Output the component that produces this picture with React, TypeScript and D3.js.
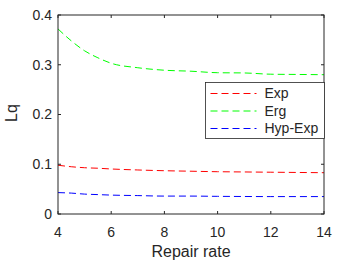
import React, { useEffect, useRef } from 'react';
import * as d3 from 'd3';

const repairRate = [4, 4.5, 5, 5.5, 6, 7, 8, 9, 10, 11, 12, 13, 14];
const expLq = [0.098, 0.095, 0.093, 0.092, 0.0905, 0.0885, 0.087, 0.086, 0.085, 0.0845, 0.084, 0.0835, 0.083];
const ergLq = [0.372, 0.348, 0.328, 0.314, 0.303, 0.294, 0.289, 0.287, 0.284, 0.2835, 0.281, 0.2805, 0.28];
const hypExpLq = [0.043, 0.042, 0.04, 0.039, 0.038, 0.037, 0.036, 0.036, 0.0355, 0.0352, 0.035, 0.035, 0.035];
const seriesNames = ['Exp', 'Erg', 'Hyp-Exp'];
const seriesColors = ['#ff0000', '#00ff00', '#0000ff'];
const xTicks = [4, 6, 8, 10, 12, 14];
const yTicks = [0, 0.1, 0.2, 0.3, 0.4];

export default function App() {
    const svgRef = useRef<SVGSVGElement>(null);

    useEffect(() => {
        if (!svgRef.current) return;
        const width = 345;
        const height = 264;
        const m = { left: 58, right: 21, top: 15, bottom: 50 };
        const font = 'Liberation Sans, Arial, sans-serif';
        const ink = '#262626';

        const svg = d3.select(svgRef.current);
        svg.selectAll('*').remove();
        svg.attr('viewBox', `0 0 ${width} ${height}`);

        const x = d3.scaleLinear().domain([4, 14]).range([m.left, width - m.right]);
        const y = d3.scaleLinear().domain([0, 0.4]).range([height - m.bottom, m.top]);

        const series = [expLq, ergLq, hypExpLq];
        const line = d3.line<number>()
            .x((_, i) => x(repairRate[i]))
            .y(d => y(d))
            .curve(d3.curveMonotoneX);

        series.forEach((vals, k) => {
            svg.append('path')
                .attr('d', line(vals))
                .attr('fill', 'none')
                .attr('stroke', seriesColors[k])
                .attr('stroke-width', 1)
                .attr('stroke-dasharray', '7,4');
        });

        // box
        svg.append('rect')
            .attr('x', x(4)).attr('y', y(0.4))
            .attr('width', x(14) - x(4)).attr('height', y(0) - y(0.4))
            .attr('fill', 'none').attr('stroke', ink).attr('stroke-width', 1);

        const tl = 3;
        xTicks.forEach(t => {
            svg.append('line').attr('x1', x(t)).attr('x2', x(t))
                .attr('y1', y(0)).attr('y2', y(0) - tl).attr('stroke', ink);
            svg.append('line').attr('x1', x(t)).attr('x2', x(t))
                .attr('y1', y(0.4)).attr('y2', y(0.4) + tl).attr('stroke', ink);
            svg.append('text').attr('x', x(t)).attr('y', 237)
                .attr('text-anchor', 'middle').attr('fill', ink)
                .style('font-family', font).style('font-size', '14px')
                .text(t);
        });
        yTicks.forEach(t => {
            svg.append('line').attr('x1', x(4)).attr('x2', x(4) + tl)
                .attr('y1', y(t)).attr('y2', y(t)).attr('stroke', ink);
            svg.append('line').attr('x1', x(14)).attr('x2', x(14) - tl)
                .attr('y1', y(t)).attr('y2', y(t)).attr('stroke', ink);
            svg.append('text').attr('x', 52).attr('y', y(t))
                .attr('dy', '0.35em')
                .attr('text-anchor', 'end').attr('fill', ink)
                .style('font-family', font).style('font-size', '14px')
                .text(t === 0 ? '0' : d3.format('.1f')(t));
        });

        svg.append('text').attr('x', (x(4) + x(14)) / 2).attr('y', 257)
            .attr('text-anchor', 'middle').attr('fill', ink)
            .style('font-family', font).style('font-size', '16px')
            .text('Repair rate');
        svg.append('text')
            .attr('transform', `translate(17, 113) rotate(-90)`)
            .attr('text-anchor', 'middle').attr('fill', ink)
            .style('font-family', font).style('font-size', '16px')
            .text('Lq');

        // legend
        const lg = svg.append('g').attr('transform', 'translate(205.5,82.5)');
        lg.append('rect').attr('width', 119).attr('height', 56)
            .attr('fill', '#ffffff').attr('stroke', ink).attr('stroke-width', 0.8);
        seriesNames.forEach((name, k) => {
            const yy = 11 + k * 17.5;
            lg.append('line').attr('x1', 5).attr('x2', 51)
                .attr('y1', yy).attr('y2', yy)
                .attr('stroke', seriesColors[k]).attr('stroke-width', 1)
                .attr('stroke-dasharray', '7,4');
            lg.append('text').attr('x', 59).attr('y', yy).attr('dy', '0.35em')
                .attr('fill', ink)
                .style('font-family', font).style('font-size', '14px')
                .text(name);
        });
    }, []);

    return (
        <svg ref={svgRef} width={345} height={264}
            style={{ position: 'absolute', left: 0, top: 0, background: '#fff' }} />
    );
}
